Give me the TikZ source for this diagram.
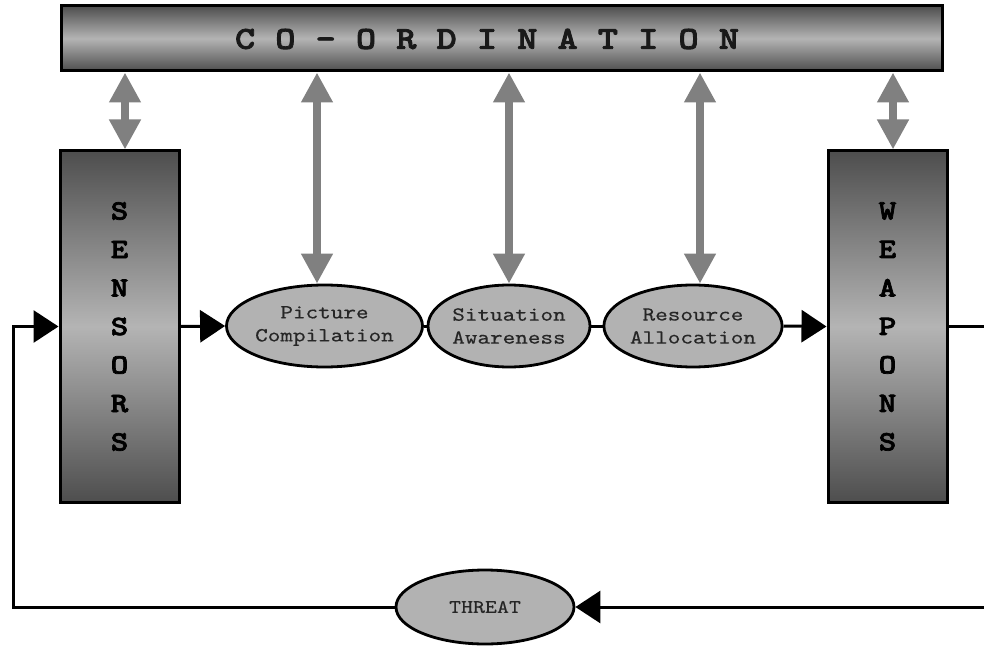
\documentclass[tikz,border=0pt]{standalone}
\usepackage{fontspec}
% widened typewriter faces with slab serifs
\newfontfamily\slabmono{lmmono10-regular.otf}[FakeStretch=1.2, FakeBold=0.3]
\newfontfamily\slabheavy{lmmonolt10-bold.otf}[FakeStretch=1.2, FakeBold=2.5]
\usetikzlibrary{arrows.meta,shapes.geometric}
\definecolor{shadedark}{HTML}{4E4E4E}
\definecolor{shadelight}{HTML}{B4B4B4}
\definecolor{ovalfill}{HTML}{B2B2B2}
\definecolor{linkgray}{HTML}{808080}
\begin{document}
\begin{tikzpicture}[x=1pt,y=-1pt,
  panel/.style={draw=black, line width=3pt, top color=shadedark,
    bottom color=shadedark, middle color=shadelight, inner sep=0pt},
  stage/.style={ellipse, draw=black, line width=2.8pt, fill=ovalfill,
    inner sep=0pt, align=center, text=black!85,
    font=\slabmono\fontsize{20}{23}\selectfont},
  flow/.style={draw=black, line width=3pt},
  flowarrow/.style={flow, -{Triangle[length=25pt,width=32pt]}},
  linkarrow/.style={draw=linkgray, line width=8pt,
    {Triangle[length=30pt,width=30pt]}-{Triangle[length=30pt,width=30pt]}}
]
\useasboundingbox (0,0) rectangle (984,647);
\clip (0,0) rectangle (984,647);

% co-ordination bar
\node[panel, minimum width=881pt, minimum height=65pt] (coord) at (501.5,38.5) {};
\node[font=\slabheavy\fontsize{32}{32}\selectfont, text=black!90]
  (coordtext) at (487,39) {C O - O R D I N A T I O N};

% sensor and weapon columns
\node[panel, minimum width=119pt, minimum height=351pt] (sensors) at (119.5,326.5)
  {\parbox{40pt}{\centering\slabheavy\fontsize{28}{38.5}\selectfont S\\E\\N\\S\\O\\R\\S}};
\node[panel, minimum width=119pt, minimum height=351pt] (weapons) at (887.5,326.5)
  {\parbox{40pt}{\centering\slabheavy\fontsize{28}{38.5}\selectfont W\\E\\A\\P\\O\\N\\S}};

% processing stages
\node[stage, minimum width=177pt, minimum height=82pt] (pic) at (324.5,326) {Picture\\Compilation};
\node[stage, minimum width=162pt, minimum height=82pt] (sit) at (509,326) {Situation\\Awareness};
\node[stage, minimum width=178pt, minimum height=82pt] (res) at (693,326) {Resource\\Allocation};
\node[stage, minimum width=178pt, minimum height=74pt,
  font=\slabmono\fontsize{19}{21}\selectfont] (threat) at (485,607) {THREAT};

% anchor columns for the co-ordination links
\coordinate (a1) at (125,0);
\coordinate (a2) at (317,0);
\coordinate (a3) at (509,0);
\coordinate (a4) at (700,0);
\coordinate (a5) at (893,0);
\coordinate (rightc) at (992,0);
\coordinate (leftc) at (13,0);

% co-ordination links
\draw[linkarrow] (coord.south -| a1) -- (sensors.north -| a1);
\draw[linkarrow] (coord.south -| a2) -- (a2 |- pic.north);
\draw[linkarrow] (coord.south -| a3) -- (a3 |- sit.north);
\draw[linkarrow] (coord.south -| a4) -- (a4 |- res.north);
\draw[linkarrow] (coord.south -| a5) -- (weapons.north -| a5);

% main flow
\draw[flowarrow] (sensors.east) -- (pic.west);
\draw[flow] (pic.east) -- (sit.west);
\draw[flow] (sit.east) -- (res.west);
\draw[flowarrow] (res.east) -- (weapons.west);

% feedback loop through the threat
\draw[flowarrow] (weapons.east) -- (weapons.east -| rightc) -- (rightc |- threat.east) -- (threat.east);
\draw[flowarrow] (threat.west) -- (threat.west -| leftc) -- (leftc |- sensors.west) -- (sensors.west);
\end{tikzpicture}
\end{document}
